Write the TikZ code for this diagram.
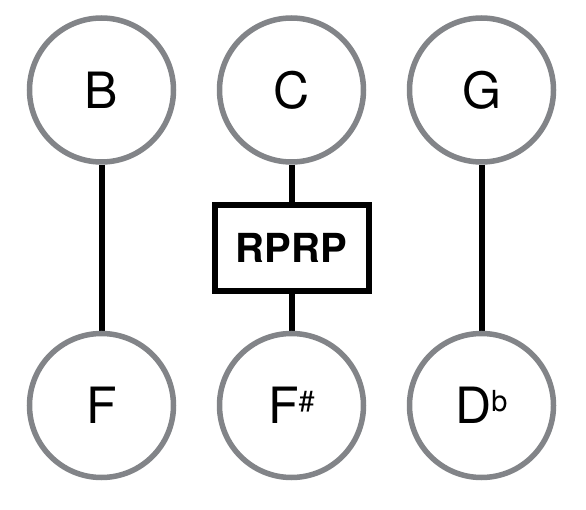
\documentclass[tikz,border=0pt]{standalone}
\usepackage{fontspec}
\setmainfont{TeX Gyre Heros}
\usetikzlibrary{backgrounds}
\definecolor{ringgray}{RGB}{130,132,136}
\newcommand{\up}[1]{\raisebox{12.5pt}{\fontsize{29}{29}\selectfont #1}}

\begin{document}
\begin{tikzpicture}[x=1pt,y=1pt,yscale=-1,
        note/.style={circle,draw=ringgray,line width=5.5pt,minimum size=144pt,inner sep=0pt,font=\fontsize{50}{50}\selectfont},
        link/.style={line width=6pt},
        rbox/.style={draw,line width=6pt,minimum width=154pt,minimum height=86pt,inner sep=0pt,font=\fontsize{40}{40}\selectfont\bfseries}]
        \useasboundingbox (0,0) rectangle (586,510);
        
        % top row
        \node[note] (B) at (101.5,90) {B};
        \node[note] (C) at (291.5,90) {C};
        \node[note] (G) at (481.5,90) {G};
        % bottom row
        \node[note] (F) at (101.5,405.5) {F};
        \node[note] (Fs) at (291.5,405.5) {F\up{\#}};
        \node[note] (Db) at (481.5,405.5) {D\up{b}};
        % box
        \node[rbox] (rprp) at (291.5,248) {RPRP};
        
        % links
        \begin{scope}[on background layer]
        \draw[link] (B) -- (F);
        \draw[link] (C) -- (rprp);
        \draw[link] (rprp) -- (Fs);
        \draw[link] (G) -- (Db);
        \end{scope}
        
\end{tikzpicture}
\end{document}
